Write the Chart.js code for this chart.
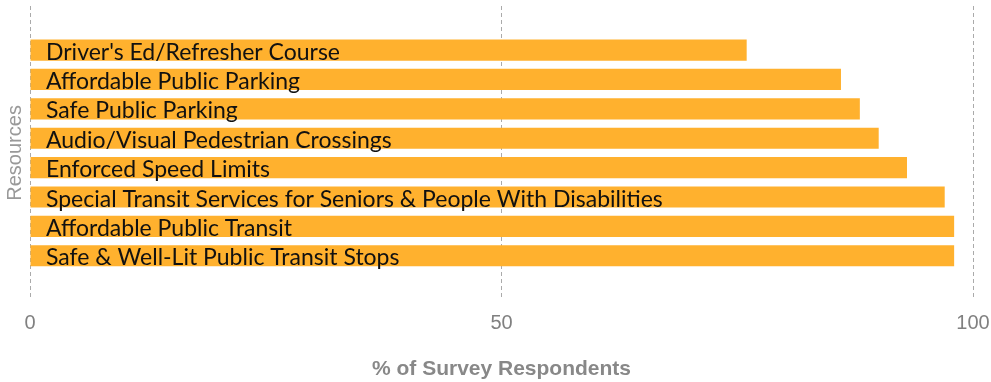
<!DOCTYPE html>
<html>
<head>
<meta charset="utf-8">
<script src="https://cdn.jsdelivr.net/npm/chart.js@4"></script>
<style>
  html, body { margin: 0; padding: 0; background: #ffffff; }
  #wrap { width: 991px; height: 382px; position: relative; }
</style>
</head>
<body>
<div id="wrap"><canvas id="c"></canvas></div>
<script>
const categories = [
  "Driver's Ed/Refresher Course",
  "Affordable Public Parking",
  "Safe Public Parking",
  "Audio/Visual Pedestrian Crossings",
  "Enforced Speed Limits",
  "Special Transit Services for Seniors & People With Disabilities",
  "Affordable Public Transit",
  "Safe & Well-Lit Public Transit Stops"
];
const values = [76, 86, 88, 90, 93, 97, 98, 98];
const xTicks = [0, 50, 100];

// one empty slot above and below the bars, as in the reference
const labels = [''].concat(categories, ['']);
const data = [null].concat(values, [null]);

const barLabels = {
  id: 'barLabels',
  afterDatasetsDraw(chart) {
    const ctx = chart.ctx;
    const meta = chart.getDatasetMeta(0);
    const x0 = chart.scales.x.getPixelForValue(0);
    ctx.save();
    ctx.font = '23px Lato';
    ctx.fillStyle = '#111111';
    ctx.textAlign = 'left';
    ctx.textBaseline = 'alphabetic';
    meta.data.forEach((bar, i) => {
      const lab = chart.data.labels[i];
      if (!lab) return;
      ctx.fillText(lab, x0 + 16, bar.y + bar.height / 2 - 1);
    });
    ctx.restore();
  }
};

new Chart(document.getElementById('c'), {
  type: 'bar',
  data: {
    labels: labels,
    datasets: [{
      data: data,
      backgroundColor: '#FFB12E',
      borderWidth: 0,
      categoryPercentage: 1,
      barPercentage: 0.72
    }]
  },
  plugins: [barLabels],
  options: {
    indexAxis: 'y',
    responsive: true,
    maintainAspectRatio: false,
    animation: false,
    layout: { padding: { top: 6, right: 18, bottom: 0, left: 0 } },
    plugins: { legend: { display: false }, tooltip: { enabled: false } },
    scales: {
      x: {
        type: 'linear',
        min: 0,
        max: 100,
        afterBuildTicks(scale) { scale.ticks = xTicks.map(v => ({ value: v })); },
        afterFit(scale) { scale.paddingLeft = 0; scale.paddingRight = 0; },
        grid: { color: '#aaaaaa', lineWidth: 1, drawTicks: false, tickLength: 0 },
        border: { display: false, dash: [4, 3] },
        ticks: {
          color: '#808080',
          padding: 12,
          maxRotation: 0,
          font: { family: 'Liberation Sans, Arial, sans-serif', size: 20 }
        },
        title: {
          display: true,
          text: '% of Survey Respondents',
          color: '#888888',
          padding: { top: 9, bottom: 0 },
          font: { family: 'Liberation Sans, Arial, sans-serif', size: 21, weight: 'bold' }
        }
      },
      y: {
        grid: { display: false },
        border: { display: false },
        ticks: { display: false },
        afterFit(scale) { scale.width = 30; },
        title: {
          display: true,
          text: 'Resources',
          color: '#999999',
          padding: { top: 3, bottom: 3 },
          font: { family: 'Liberation Sans, Arial, sans-serif', size: 20 }
        }
      }
    }
  }
});
</script>
</body>
</html>
